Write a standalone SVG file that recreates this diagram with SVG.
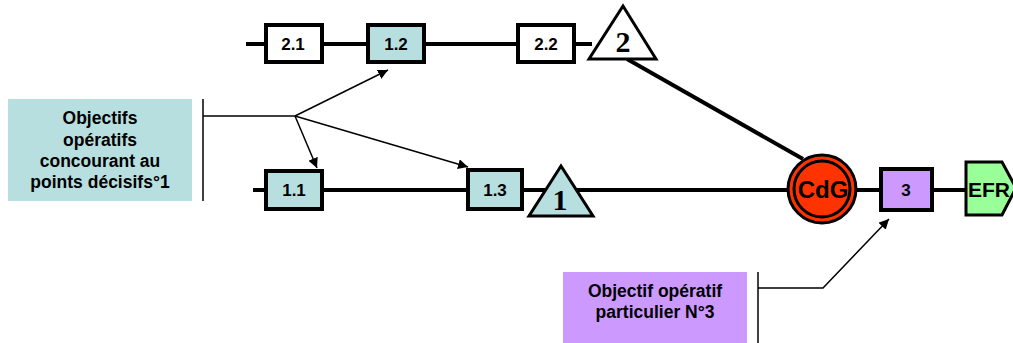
<svg xmlns="http://www.w3.org/2000/svg" width="1013" height="343" viewBox="0 0 1013 343">
<defs>
<style>
.ln{stroke:#000;stroke-width:4;fill:none}
.ar{stroke:#000;stroke-width:1.5;fill:none}
.bx{stroke:#000;stroke-width:4}
.w{fill:#fff}
.b{fill:#b8dfe0}
.t{font-family:"Liberation Sans",Arial,sans-serif;font-weight:bold;font-size:17px;text-anchor:middle;fill:#000}
.lb{font-family:"Liberation Sans",Arial,sans-serif;font-weight:bold;font-size:17.5px;text-anchor:middle;fill:#000}
.big{font-family:"Liberation Serif","Times New Roman",serif;font-weight:bold;font-size:30px;text-anchor:middle;fill:#000}
.lg{font-family:"Liberation Sans",Arial,sans-serif;font-weight:bold;font-size:24px;text-anchor:middle;fill:#000}
</style>
<marker id="ah" viewBox="0 0 10 10" refX="10" refY="5" markerWidth="10" markerHeight="10" markerUnits="userSpaceOnUse" orient="auto">
<path d="M0,0 L10,5 L0,10 z" fill="#000"/>
</marker>
</defs>
<g id="connectors">
<line class="ln" x1="246" y1="44" x2="592" y2="44"/>
<line class="ln" x1="253" y1="190" x2="790" y2="190"/>
<line class="ln" x1="855" y1="190" x2="966" y2="190"/>
<line class="ln" x1="627" y1="59" x2="803" y2="159" stroke-width="4.5"/>
<line class="ar" x1="203" y1="99" x2="203" y2="201"/>
<polyline class="ar" points="203,116 295,116"/>
<line class="ar" x1="295" y1="116" x2="388" y2="70" marker-end="url(#ah)"/>
<line class="ar" x1="295" y1="116" x2="317" y2="168" marker-end="url(#ah)"/>
<line class="ar" x1="295" y1="116" x2="468" y2="167" marker-end="url(#ah)"/>
<line class="ar" x1="758" y1="272" x2="758" y2="343"/>
<polyline class="ar" points="758,288 823,288 889,219" marker-end="url(#ah)"/>
</g>
<g id="label1">
<rect x="8" y="99" width="184" height="102" class="b"/>
<text class="lb" x="100" y="124">Objectifs</text>
<text class="lb" x="100" y="146">opératifs</text>
<text class="lb" x="100" y="167">concourant au</text>
<text class="lb" x="100" y="188">points décisifs°1</text>
</g>
<g id="label3">
<rect x="563" y="272" width="184" height="71" fill="#cc99ff"/>
<text class="lb" x="655" y="297">Objectif opératif</text>
<text class="lb" x="655" y="318">particulier N°3</text>
</g>
<g id="n21"><rect class="bx w" x="266" y="25" width="56" height="37"/><text class="t" x="293" y="50">2.1</text></g>
<g id="n12"><rect class="bx b" x="368" y="25" width="56" height="37"/><text class="t" x="396" y="50">1.2</text></g>
<g id="n22"><rect class="bx w" x="518" y="25" width="56" height="37"/><text class="t" x="546" y="50">2.2</text></g>
<g id="t2"><polygon class="w" stroke="#000" stroke-width="3" points="623,6 589,59 656,59"/><text class="big" x="623" y="52">2</text></g>
<g id="n11"><rect class="bx b" x="266" y="171" width="56" height="38"/><text class="t" x="294" y="196">1.1</text></g>
<g id="n13"><rect class="bx b" x="468" y="170" width="54" height="39"/><text class="t" x="495" y="196">1.3</text></g>
<g id="t1"><polygon class="b" stroke="#000" stroke-width="3" points="561,166 529,216 593,216"/><text class="big" x="560" y="210">1</text></g>
<g id="cdg"><circle cx="822" cy="189" r="34" fill="#ff3300" stroke="#000" stroke-width="3"/><circle cx="822" cy="189" r="28" fill="none" stroke="#000" stroke-width="3"/><text class="lg" x="823" y="198">CdG</text></g>
<g id="n3"><rect class="bx" fill="#cc99ff" x="881" y="169" width="51" height="41"/><text class="t" x="906" y="196">3</text></g>
<g id="efr"><polygon fill="#99ff99" stroke="#000" stroke-width="3" points="966,162 1002,162 1016,188 1002,215 966,215"/><text class="lg" x="989" y="197" style="font-size:21px">EFR</text></g>
</svg>
